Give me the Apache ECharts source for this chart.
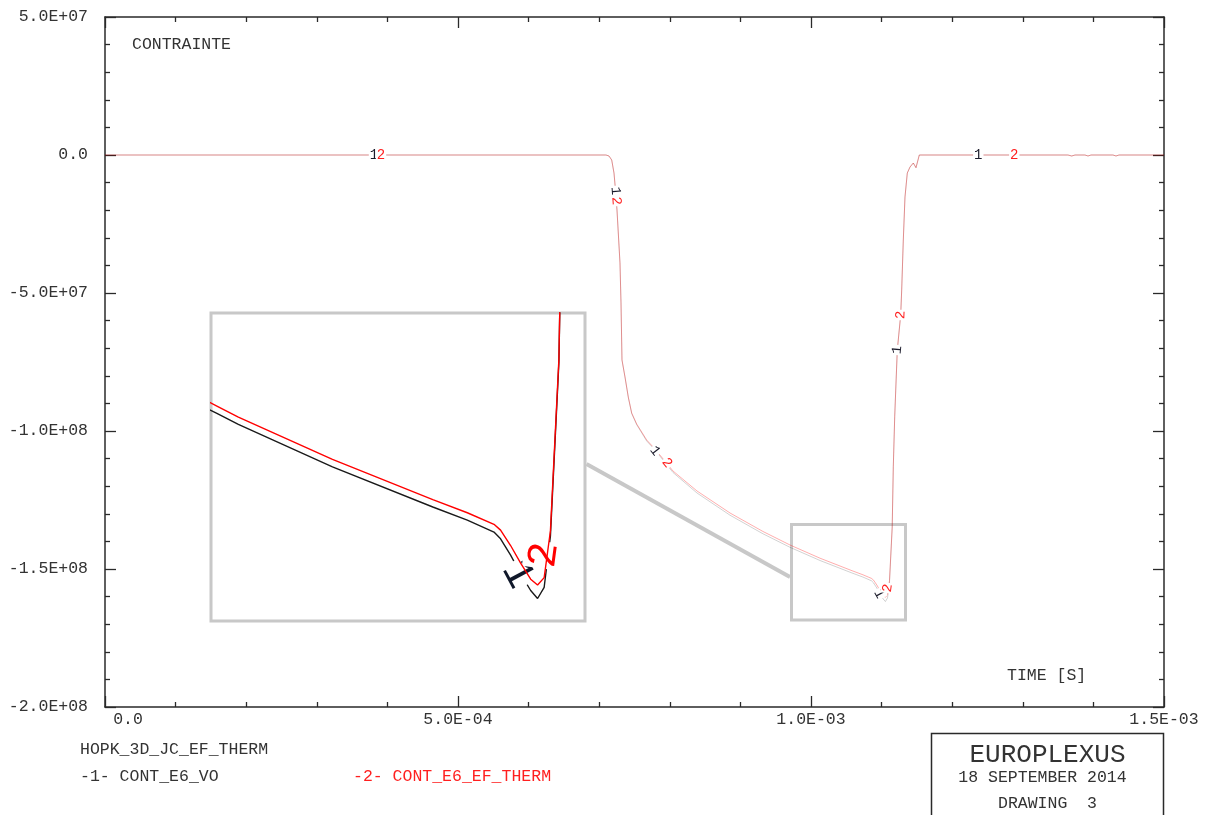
<!DOCTYPE html>
<html>
<head>
<meta charset="utf-8">
<title>CONTRAINTE</title>
<script src="https://cdn.jsdelivr.net/npm/echarts@6/dist/echarts.min.js"></script>
<style>
html, body { margin: 0; padding: 0; background: #fff; }
#chart { width: 1206px; height: 815px; }
</style>
</head>
<body>
<div id="chart"></div>
<script>
// Time samples [s]
const timeS = [0, 7.0963e-4, 7.1388e-4, 7.1771e-4, 7.2096e-4, 7.2309e-4, 7.2521e-4, 7.2946e-4, 7.3088e-4, 7.3229e-4,
  7.3654e-4, 7.4122e-4, 7.4603e-4, 7.5312e-4, 7.6728e-4, 7.7904e-4, 8.0453e-4, 8.3853e-4, 8.8527e-4, 9.3201e-4,
  9.6034e-4, 9.7025e-4, 1.01275e-3, 1.05807e-3, 1.07365e-3, 1.08569e-3, 1.08867e-3, 1.09320e-3, 1.09773e-3, 1.10227e-3,
  1.10538e-3, 1.10836e-3, 1.11119e-3, 1.11501e-3, 1.11657e-3, 1.11856e-3, 1.12040e-3, 1.12224e-3, 1.12705e-3, 1.12847e-3,
  1.13074e-3, 1.13314e-3, 1.13640e-3, 1.14023e-3, 1.14490e-3, 1.14872e-3, 1.15340e-3, 1.36402e-3, 1.36926e-3, 1.37394e-3,
  1.38810e-3, 1.39235e-3, 1.39660e-3, 1.42776e-3, 1.43201e-3, 1.43626e-3, 1.5e-3];

// Curve 1 : CONT_E6_VO [Pa]
const contE6Vo = [0, 0, -3.62e5, -1.812e6, -6.522e6, -1.2681e7, -1.9928e7, -3.913e7, -5.3623e7, -7.4275e7,
  -8.0435e7, -8.7862e7, -9.3659e7, -9.7717e7, -1.03623e8, -1.06884e8, -1.15036e8, -1.22464e8, -1.30507e8, -1.37246e8,
  -1.4087e8, -1.42138e8, -1.4692e8, -1.51449e8, -1.52935e8, -1.54275e8, -1.55036e8, -1.56884e8, -1.58986e8, -1.6087e8,
  -1.61775e8, -1.60507e8, -1.5471e8, -1.35145e8, -1.12935e8, -9.4819e7, -8.2609e7, -7.0652e7, -5.7971e7, -4.8913e7,
  -3.0797e7, -1.5217e7, -6.522e6, -4.348e6, -2.899e6, -4.601e6, 0, 0, -3.62e5, 0,
  0, -3.62e5, 0, 0, -3.62e5, 0, 0];

// Curve 2 : CONT_E6_EF_THERM [Pa]
const contE6EfTherm = [0, 0, -3.62e5, -1.812e6, -6.522e6, -1.2681e7, -1.9928e7, -3.913e7, -5.3623e7, -7.4275e7,
  -8.0435e7, -8.7681e7, -9.3478e7, -9.7464e7, -1.03261e8, -1.06522e8, -1.14493e8, -1.21739e8, -1.2971e8, -1.36413e8,
  -1.40036e8, -1.41304e8, -1.46087e8, -1.50616e8, -1.52101e8, -1.53406e8, -1.54058e8, -1.55797e8, -1.5779e8, -1.59601e8,
  -1.60254e8, -1.5942e8, -1.5413e8, -1.34783e8, -1.12935e8, -9.4819e7, -8.2609e7, -7.0652e7, -5.7971e7, -4.8913e7,
  -3.0797e7, -1.5217e7, -6.522e6, -4.348e6, -2.899e6, -4.601e6, 0, 0, -3.62e5, 0,
  0, -3.62e5, 0, 0, -3.62e5, 0, 0];

// Axis tick labels
const xTickLabels = ['0.0', '5.0E-04', '1.0E-03', '1.5E-03'];
const yTickLabels = ['-2.0E+08', '-1.5E+08', '-1.0E+08', '-5.0E+07', '0.0', '5.0E+07'];

// Curve-number tags placed along each curve: [time, value]
const tags1 = [[3.8102e-4, 0], [7.2323e-4, -1.3043e7], [7.7904e-4, -1.07246e8], [1.09632e-3, -1.59058e8], [1.12224e-3, -7.0652e7], [1.23697e-3, 0]];
const tags2 = [[3.9093e-4, 0], [7.2422e-4, -1.6667e7], [7.9603e-4, -1.11594e8], [1.10850e-3, -1.56884e8], [1.12705e-3, -5.7971e7], [1.28796e-3, 0]];

// Magnified detail window, and the frame marking the zoomed zone on the main plot
const detailTime = [9.579e-4, 1.1268e-3];
const detailValue = [-1.64312e8, -1.29565e8];
const frameTime = [9.7240e-4, 1.13385e-3];
const frameValue = [-1.68478e8, -1.33877e8];

const X_MIN = 0, X_MAX = 1.5e-3, X_STEP = 5e-4;
const Y_MIN = -2e8, Y_MAX = 5e7, Y_STEP = 5e7;

const INK = '#2a2a2a';
const RED = '#ff1f1f';
const MONO = '"Liberation Mono", "DejaVu Sans Mono", monospace';
const GREY = '#c8c8c8';

const chart = echarts.init(document.getElementById('chart'), null, { renderer: 'canvas' });

const MAIN = { xAxisIndex: 0, yAxisIndex: 0 };
const DETAIL = { xAxisIndex: 2, yAxisIndex: 2 };

function curveData(values) {
  return timeS.map((t, i) => [t, values[i]]);
}

// Direction of the curve (in screen space) at time t, as a label rotation in degrees
function tagAngle(values, t, sel) {
  let i = 0;
  while (i < timeS.length - 2 && timeS[i + 1] <= t) i++;
  const a = chart.convertToPixel(sel, [timeS[i], values[i]]);
  const b = chart.convertToPixel(sel, [timeS[i + 1], values[i + 1]]);
  const ang = -Math.atan2(b[1] - a[1], b[0] - a[0]) * 180 / Math.PI;
  return Math.abs(ang) < 1 ? 0 : ang;
}

function tagMark(tags, text, values, color, size, sel, ready) {
  return {
    silent: true,
    animation: false,
    symbol: 'circle',
    symbolSize: 1,
    itemStyle: { color: 'rgba(0,0,0,0)' },
    label: {
      show: true,
      position: 'inside',
      formatter: () => text,
      color: color,
      fontFamily: MONO,
      fontSize: size,
      lineHeight: size,
      backgroundColor: '#fff',
      padding: [0, 1]
    },
    data: tags.map(([t, v]) => ({
      coord: [t, v],
      label: { rotate: ready ? tagAngle(values, t, sel) : 0 }
    }))
  };
}

const frameLine = { show: true, onZero: false, lineStyle: { color: INK, width: 1.5 } };
const majorTick = { show: true, inside: true, length: 11, lineStyle: { color: INK, width: 1.3 } };
const minorTick = { show: true, splitNumber: 5, length: 5, lineStyle: { color: INK, width: 1.3 } };
const labelFont = { fontFamily: MONO, fontSize: 16.5, color: '#333' };

function axisX(position, withLabels) {
  return {
    type: 'value', gridIndex: 0, position: position,
    min: X_MIN, max: X_MAX, interval: X_STEP,
    axisLine: frameLine, axisTick: majorTick, minorTick: minorTick,
    splitLine: { show: false }, minorSplitLine: { show: false },
    axisLabel: withLabels ? Object.assign({}, labelFont, {
      margin: 4, showMinLabel: true, showMaxLabel: true, hideOverlap: false,
      formatter: (v) => {
        const k = Math.round((v - X_MIN) / X_STEP);
        return k === 0 ? '{lead|' + xTickLabels[k] + '}' : xTickLabels[k];
      },
      rich: { lead: Object.assign({}, labelFont, { padding: [0, 0, 0, 46] }) }
    }) : { show: false }
  };
}

function axisY(position, withLabels) {
  return {
    type: 'value', gridIndex: 0, position: position,
    min: Y_MIN, max: Y_MAX, interval: Y_STEP,
    axisLine: frameLine, axisTick: majorTick, minorTick: minorTick,
    splitLine: { show: false }, minorSplitLine: { show: false },
    axisLabel: withLabels ? Object.assign({}, labelFont, {
      margin: 17, showMinLabel: true, showMaxLabel: true, hideOverlap: false,
      formatter: (v) => yTickLabels[Math.round((v - Y_MIN) / Y_STEP)]
    }) : { show: false }
  };
}

function text(str, x, y, extra) {
  return {
    type: 'text', x: x, y: y, silent: true, z: 10,
    style: Object.assign({
      text: str, font: '16.5px ' + MONO, fill: '#333',
      align: 'left', verticalAlign: 'middle', textAlign: 'left', textVerticalAlign: 'middle'
    }, extra || {})
  };
}

function buildOption(ready) {
  const graphic = [
    text('CONTRAINTE', 132, 45),
    text('TIME [S]', 1007, 676),
    text('HOPK_3D_JC_EF_THERM', 80, 750),
    text('-1- CONT_E6_VO', 80, 777),
    text('-2- CONT_E6_EF_THERM', 353, 777, { fill: RED }),
    {
      type: 'rect', silent: true, z: 9,
      shape: { x: 931.5, y: 733.5, width: 232, height: 100 },
      style: { fill: '#fff', stroke: INK, lineWidth: 1.5 }
    },
    text('EUROPLEXUS', 1047.5, 755, { font: '26px ' + MONO, align: 'center', textAlign: 'center' }),
    text('18 SEPTEMBER 2014', 1042.5, 778, { align: 'center', textAlign: 'center' }),
    text('DRAWING  3', 1047.5, 804, { align: 'center', textAlign: 'center' })
  ];

  if (ready) {
    // connector from the detail window to the frame on the main plot
    const p0 = chart.convertToPixel(DETAIL, [detailTime[1], -1.46594e8]);
    const p1 = chart.convertToPixel(MAIN, [frameTime[0], -1.529e8]);
    graphic.push({
      type: 'line', silent: true, z: 0,
      shape: { x1: p0[0] + 1.5, y1: p0[1], x2: p1[0] - 1.5, y2: p1[1] },
      style: { stroke: GREY, lineWidth: 4 }
    });
  }

  return {
    animation: false,
    backgroundColor: '#fff',
    grid: [
      { left: 105, top: 17, width: 1059, height: 690, containLabel: false, outerBoundsMode: 'none' },
      {
        left: 211, top: 313, width: 374, height: 308, containLabel: false, outerBoundsMode: 'none',
        show: true, backgroundColor: '#fff', borderColor: GREY, borderWidth: 3, z: 1
      }
    ],
    xAxis: [
      axisX('bottom', true),
      axisX('top', false),
      { type: 'value', gridIndex: 1, min: detailTime[0], max: detailTime[1], show: false }
    ],
    yAxis: [
      axisY('left', true),
      axisY('right', false),
      { type: 'value', gridIndex: 1, min: detailValue[0], max: detailValue[1], show: false }
    ],
    graphic: graphic,
    series: [
      {
        name: 'CONT_E6_VO', type: 'line', xAxisIndex: 0, yAxisIndex: 0,
        data: curveData(contE6Vo), symbol: 'none', silent: true, z: 2,
        lineStyle: { color: 'rgba(0,0,0,0.18)', width: 1 },
        markPoint: tagMark(tags1, '1', contE6Vo, '#1b1b2b', 14, MAIN, ready)
      },
      {
        name: 'CONT_E6_EF_THERM', type: 'line', xAxisIndex: 0, yAxisIndex: 0,
        data: curveData(contE6EfTherm), symbol: 'none', silent: true, z: 3,
        lineStyle: { color: 'rgba(255,0,0,0.32)', width: 1 },
        markPoint: tagMark(tags2, '2', contE6EfTherm, RED, 14, MAIN, ready),
        markArea: {
          silent: true,
          itemStyle: { color: 'rgba(0,0,0,0)', borderColor: GREY, borderWidth: 3 },
          label: { show: false },
          data: [[{ coord: [frameTime[0], frameValue[1]] }, { coord: [frameTime[1], frameValue[0]] }]]
        }
      },
      {
        name: 'CONT_E6_VO detail', type: 'line', xAxisIndex: 2, yAxisIndex: 2,
        data: curveData(contE6Vo), symbol: 'none', silent: true, z: 4,
        lineStyle: { color: '#1a1a1a', width: 1.4 },
        markPoint: tagMark(tags1, '1', contE6Vo, '#10182a', 42, DETAIL, ready)
      },
      {
        name: 'CONT_E6_EF_THERM detail', type: 'line', xAxisIndex: 2, yAxisIndex: 2,
        data: curveData(contE6EfTherm), symbol: 'none', silent: true, z: 5,
        lineStyle: { color: '#ff0000', width: 1.4 },
        markPoint: tagMark(tags2, '2', contE6EfTherm, '#ff0000', 42, DETAIL, ready)
      }
    ]
  };
}

chart.setOption(buildOption(false));
chart.setOption(buildOption(true), true);
</script>
</body>
</html>
